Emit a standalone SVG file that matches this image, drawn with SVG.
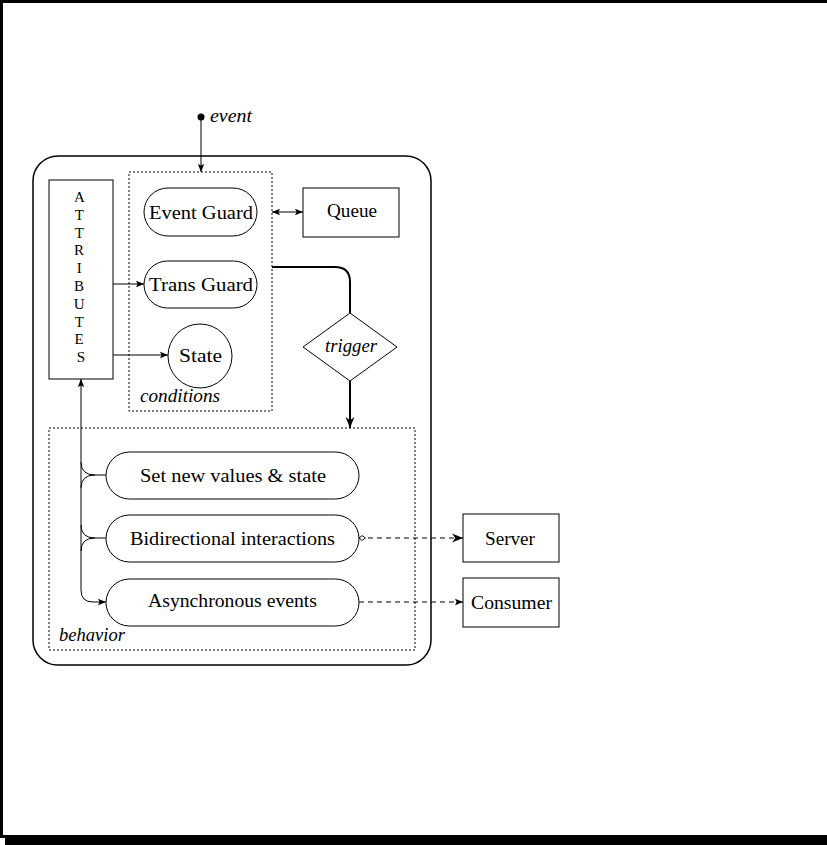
<svg xmlns="http://www.w3.org/2000/svg" width="827" height="845" viewBox="0 0 827 845">
<defs>
<style>
text{font-family:"Liberation Serif","DejaVu Serif",serif;font-size:18px;fill:#000}
.it{font-style:italic}
.vert{font-size:15px}
.thin{fill:none;stroke:#000;stroke-width:1}
.thick{fill:none;stroke:#000;stroke-width:2}
.node{fill:#fff;stroke:#000;stroke-width:1}
.dash{fill:none;stroke:#000;stroke-width:1;stroke-dasharray:2,2}
.dl{fill:none;stroke:#000;stroke-width:1;stroke-dasharray:5,4}
</style>
<marker id="arr" viewBox="0 0 10 10" refX="10" refY="5" markerWidth="8" markerHeight="8" orient="auto-start-reverse" markerUnits="userSpaceOnUse">
<path d="M0,1 L10,5 L0,9 L2,5 Z" fill="#000"/>
</marker>
<marker id="arrb" viewBox="0 0 10 10" refX="10" refY="5" markerWidth="11" markerHeight="11" orient="auto" markerUnits="userSpaceOnUse">
<path d="M0,1 L10,5 L0,9 L3,5 Z" fill="#000"/>
</marker>
<marker id="dia" viewBox="0 0 10 10" refX="1" refY="5" markerWidth="8" markerHeight="8" orient="auto" markerUnits="userSpaceOnUse">
<path d="M1,5 L5,2 L9,5 L5,8 Z" fill="#fff" stroke="#000" stroke-width="1.2"/>
</marker>
</defs>
<rect width="827" height="845" fill="#fff"/>
<g id="frame">
<rect x="1.5" y="1.5" width="840" height="835" fill="none" stroke="#000" stroke-width="3"/>
<rect x="5" y="837" width="830" height="8" fill="#000"/>
</g>
<g id="container">
<rect x="33" y="156" width="398" height="509" rx="25" ry="25" fill="none" stroke="#000" stroke-width="1.5"/>
</g>
<g id="conditions">
<rect x="129" y="172" width="143" height="239" class="dash"/>
<text x="140" y="402" class="it" textLength="80" lengthAdjust="spacingAndGlyphs">conditions</text>
</g>
<g id="behavior">
<rect x="49" y="428" width="366" height="222" class="dash"/>
<text x="59" y="641" class="it" textLength="66" lengthAdjust="spacingAndGlyphs">behavior</text>
</g>
<g id="attributes">
<rect x="49" y="180" width="64" height="199" class="node"/>
<text text-anchor="middle" class="vert">
<tspan x="81" y="202">A</tspan>
<tspan x="81" y="219.8">T</tspan>
<tspan x="81" y="237.6">T</tspan>
<tspan x="81" y="255.4">R</tspan>
<tspan x="81" y="273.2">I</tspan>
<tspan x="81" y="291">B</tspan>
<tspan x="81" y="308.8">U</tspan>
<tspan x="81" y="326.6">T</tspan>
<tspan x="81" y="344.4">E</tspan>
<tspan x="81" y="362.2">S</tspan>
</text>
</g>
<g id="event">
<circle cx="201" cy="117" r="3.5" fill="#000"/>
<text x="210" y="122" class="it" textLength="42" lengthAdjust="spacingAndGlyphs">event</text>
</g>
<g id="event-guard">
<rect x="144" y="188" width="113" height="48" rx="24" class="node"/>
<text x="149" y="219" textLength="104" lengthAdjust="spacingAndGlyphs">Event Guard</text>
</g>
<g id="trans-guard">
<rect x="144" y="261" width="113" height="47" rx="23.5" class="node"/>
<text x="149" y="291" textLength="104" lengthAdjust="spacingAndGlyphs">Trans Guard</text>
</g>
<g id="state">
<circle cx="200" cy="356" r="32" class="node"/>
<text x="179" y="362" textLength="43" lengthAdjust="spacingAndGlyphs">State</text>
</g>
<g id="queue">
<rect x="303" y="188" width="96" height="49" class="node"/>
<text x="327" y="217" textLength="50" lengthAdjust="spacingAndGlyphs">Queue</text>
</g>
<g id="trigger">
<path d="M350,313 L397,347 L350,381 L303,347 Z" class="node"/>
<text x="325" y="352" class="it" textLength="52" lengthAdjust="spacingAndGlyphs">trigger</text>
</g>
<g id="set-values">
<rect x="106" y="452" width="253" height="47" rx="23.5" class="node"/>
<text x="140" y="482" textLength="186" lengthAdjust="spacingAndGlyphs">Set new values &amp; state</text>
</g>
<g id="bidirectional">
<rect x="106" y="515" width="253" height="47" rx="23.5" class="node"/>
<text x="130" y="545" textLength="205" lengthAdjust="spacingAndGlyphs">Bidirectional interactions</text>
</g>
<g id="async">
<rect x="106" y="579" width="253" height="47" rx="23.5" class="node"/>
<text x="148" y="607" textLength="169" lengthAdjust="spacingAndGlyphs">Asynchronous events</text>
</g>
<g id="server">
<rect x="463" y="514" width="96" height="48" class="node"/>
<text x="485" y="545" textLength="50" lengthAdjust="spacingAndGlyphs">Server</text>
</g>
<g id="consumer">
<rect x="463" y="578" width="96" height="49" class="node"/>
<text x="471" y="609" textLength="81" lengthAdjust="spacingAndGlyphs">Consumer</text>
</g>
<g id="connectors">
<line x1="201" y1="117" x2="201" y2="172" class="thin" marker-end="url(#arr)"/>
<line x1="272" y1="212" x2="303" y2="212" class="thin" marker-start="url(#arr)" marker-end="url(#arr)"/>
<line x1="113" y1="284" x2="144" y2="284" class="thin" marker-end="url(#arr)"/>
<line x1="113" y1="355" x2="168" y2="355" class="thin" marker-end="url(#arr)"/>
<path d="M272,267 L335,267 Q350,267 350,282 L350,313" class="thick"/>
<line x1="350" y1="381" x2="350" y2="428" class="thick" marker-end="url(#arrb)"/>
<path d="M81,590 L81,379" class="thin" marker-end="url(#arr)"/>
<path d="M81,590 Q81,602 93,602 L106,602" class="thin" marker-end="url(#arr)"/>
<path d="M81,462 Q81,475 95,475 L106,475 M81,488 Q81,475 95,475" class="thin"/>
<path d="M81,525 Q81,538 95,538 L106,538 M81,551 Q81,538 95,538" class="thin"/>
<line x1="359" y1="538" x2="463" y2="538" class="dl" marker-start="url(#dia)" marker-end="url(#arrb)"/>
<line x1="359" y1="602" x2="463" y2="602" class="dl" marker-end="url(#arr)"/>
</g>
</svg>
